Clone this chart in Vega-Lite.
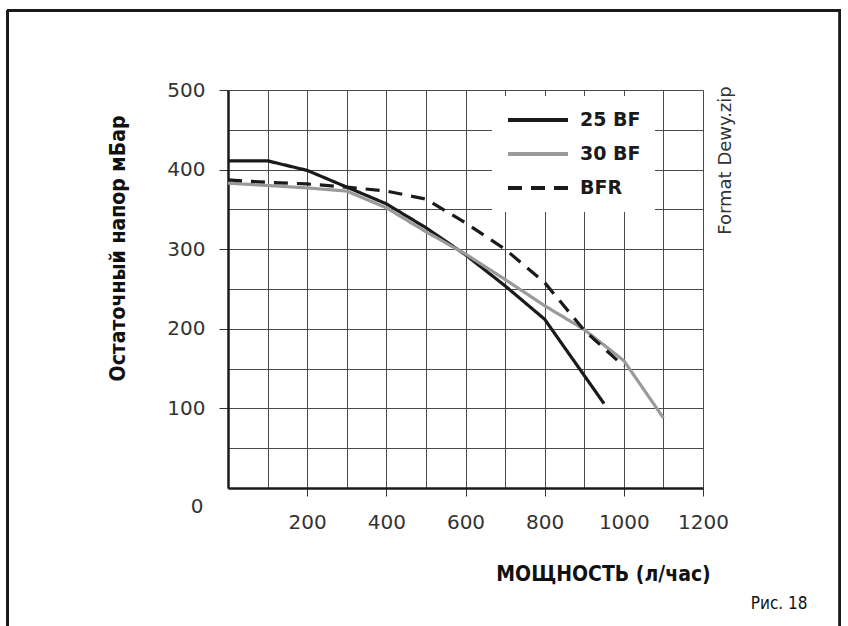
{
  "$schema": "https://vega.github.io/schema/vega-lite/v6.json",
  "width": 475,
  "height": 398,
  "autosize": "none",
  "padding": {"left": 228, "top": 90, "right": 145, "bottom": 138},
  "background": "white",
  "data": {
    "values": [
      {"model": "25 BF", "flow": 0, "pressure": 411},
      {"model": "25 BF", "flow": 100, "pressure": 411},
      {"model": "25 BF", "flow": 200, "pressure": 399},
      {"model": "25 BF", "flow": 300, "pressure": 378},
      {"model": "25 BF", "flow": 400, "pressure": 357},
      {"model": "25 BF", "flow": 500, "pressure": 327},
      {"model": "25 BF", "flow": 600, "pressure": 293},
      {"model": "25 BF", "flow": 700, "pressure": 254},
      {"model": "25 BF", "flow": 800, "pressure": 212},
      {"model": "25 BF", "flow": 950, "pressure": 106},
      {"model": "30 BF", "flow": 0, "pressure": 383},
      {"model": "30 BF", "flow": 100, "pressure": 380},
      {"model": "30 BF", "flow": 200, "pressure": 377},
      {"model": "30 BF", "flow": 300, "pressure": 373},
      {"model": "30 BF", "flow": 400, "pressure": 352},
      {"model": "30 BF", "flow": 500, "pressure": 322},
      {"model": "30 BF", "flow": 600, "pressure": 294},
      {"model": "30 BF", "flow": 700, "pressure": 262},
      {"model": "30 BF", "flow": 800, "pressure": 229},
      {"model": "30 BF", "flow": 900, "pressure": 199},
      {"model": "30 BF", "flow": 1000, "pressure": 160},
      {"model": "30 BF", "flow": 1100, "pressure": 88},
      {"model": "BFR", "flow": 0, "pressure": 387},
      {"model": "BFR", "flow": 100, "pressure": 384},
      {"model": "BFR", "flow": 200, "pressure": 382},
      {"model": "BFR", "flow": 300, "pressure": 378},
      {"model": "BFR", "flow": 400, "pressure": 373},
      {"model": "BFR", "flow": 500, "pressure": 363},
      {"model": "BFR", "flow": 600, "pressure": 333},
      {"model": "BFR", "flow": 700, "pressure": 300},
      {"model": "BFR", "flow": 800, "pressure": 258},
      {"model": "BFR", "flow": 900, "pressure": 198},
      {"model": "BFR", "flow": 1000, "pressure": 153}
    ]
  },
  "config": {
    "view": {"stroke": null},
    "axis": {
      "labelFont": "DejaVu Sans",
      "labelFontSize": 20,
      "labelColor": "#333333",
      "labelFlush": false,
      "labelOverlap": false,
      "labelBound": false,
      "gridColor": "#4a4a4a",
      "gridWidth": 1,
      "gridOpacity": 1,
      "tickColor": "#333333",
      "tickWidth": 1,
      "domainColor": "#1a1a1a",
      "domainWidth": 2.5,
      "titleColor": "#111111"
    }
  },
  "layer": [
    {
      "mark": {"type": "point", "opacity": 0},
      "encoding": {
        "x": {
          "field": "flow",
          "type": "quantitative",
          "scale": {"domain": [0, 1200], "nice": false},
          "axis": {
            "orient": "top",
            "grid": true,
            "values": [0, 100, 200, 300, 400, 500, 600, 700, 800, 900, 1000, 1100, 1200],
            "labels": false,
            "ticks": false,
            "domain": false,
            "title": "Рис. 18",
            "titleFont": "Liberation Sans Narrow, DejaVu Sans Condensed, sans-serif",
            "titleFontSize": 17,
            "titleFontWeight": "normal",
            "titleAlign": "right",
            "titleBaseline": "middle",
            "titleAngle": 0,
            "titleX": 579,
            "titleY": 513
          }
        },
        "y": {
          "field": "pressure",
          "type": "quantitative",
          "scale": {"domain": [0, 500], "nice": false},
          "axis": {
            "orient": "right",
            "grid": true,
            "values": [0, 50, 100, 150, 200, 250, 300, 350, 400, 450, 500],
            "labels": false,
            "ticks": false,
            "domain": false,
            "title": "Format Dewy.zip",
            "titleFont": "DejaVu Sans, sans-serif",
            "titleFontSize": 18,
            "titleFontWeight": "normal",
            "titleColor": "#333333",
            "titleAngle": 270,
            "titleAlign": "center",
            "titleBaseline": "middle",
            "titleX": 22,
            "titleY": 70
          }
        }
      }
    },
    {
      "mark": {"type": "line", "strokeWidth": 3.2},
      "encoding": {
        "x": {
          "field": "flow",
          "type": "quantitative",
          "scale": {"domain": [0, 1200], "nice": false},
          "axis": {
            "orient": "bottom",
            "grid": false,
            "values": [200, 400, 600, 800, 1000, 1200],
            "format": "d",
            "tickSize": 8,
            "labelPadding": 16,
            "title": "МОЩНОСТЬ (л/час)",
            "titleFont": "Liberation Sans Narrow, DejaVu Sans Condensed, sans-serif",
            "titleFontSize": 21,
            "titleFontWeight": "bold",
            "titleAlign": "center",
            "titleBaseline": "middle",
            "titleX": 375,
            "titleY": 86
          }
        },
        "y": {
          "field": "pressure",
          "type": "quantitative",
          "scale": {"domain": [0, 500], "nice": false},
          "axis": {
            "orient": "left",
            "grid": false,
            "values": [0, 100, 200, 300, 400, 500],
            "format": "d",
            "tickSize": 9,
            "tickOpacity": {"condition": {"test": "datum.value === 0", "value": 0}, "value": 1},
            "labelOffset": {"condition": {"test": "datum.value === 0", "value": 18}, "value": 0},
            "labelPadding": {"condition": {"test": "datum.value === 0", "value": 16}, "value": 14},
            "title": "Остаточный напор мБар",
            "titleFont": "Liberation Sans Narrow, DejaVu Sans Condensed, sans-serif",
            "titleFontSize": 21,
            "titleFontWeight": "bold",
            "titleAngle": 270,
            "titleAlign": "center",
            "titleBaseline": "middle",
            "titleX": -110,
            "titleY": 158
          }
        },
        "color": {
          "field": "model",
          "type": "nominal",
          "scale": {"domain": ["25 BF", "30 BF", "BFR"], "range": ["#1a1a1a", "#9a9a9a", "#1a1a1a"]},
          "legend": {
            "orient": "none",
            "legendX": 264,
            "legendY": 6,
            "title": null,
            "symbolType": "stroke",
            "symbolSize": 3600,
            "symbolStrokeWidth": 4,
            "labelFont": "DejaVu Sans",
            "labelFontSize": 19,
            "labelFontWeight": "bold",
            "labelColor": "#1a1a1a",
            "labelOffset": 10,
            "clipHeight": 20,
            "rowPadding": 14,
            "padding": 14,
            "fillColor": "white"
          }
        },
        "strokeDash": {
          "field": "model",
          "type": "nominal",
          "scale": {"domain": ["25 BF", "30 BF", "BFR"], "range": [[1, 0], [1, 0], [14, 9]]},
          "legend": {
            "orient": "none",
            "legendX": 264,
            "legendY": 6,
            "title": null,
            "symbolType": "stroke",
            "symbolSize": 3600,
            "symbolStrokeWidth": 4,
            "labelFont": "DejaVu Sans",
            "labelFontSize": 19,
            "labelFontWeight": "bold",
            "labelColor": "#1a1a1a",
            "labelOffset": 10,
            "clipHeight": 20,
            "rowPadding": 14,
            "padding": 14,
            "fillColor": "white"
          }
        }
      }
    },
    {
      "mark": {"type": "rect", "filled": false, "color": "#1a1a1a", "strokeWidth": 2},
      "encoding": {
        "x": {"datum": -556, "type": "quantitative", "axis": null},
        "x2": {"datum": 1546},
        "y": {"datum": 599.6, "type": "quantitative", "axis": null},
        "y2": {"datum": -178}
      }
    }
  ],
  "resolve": {"axis": {"x": "independent", "y": "independent"}}
}
